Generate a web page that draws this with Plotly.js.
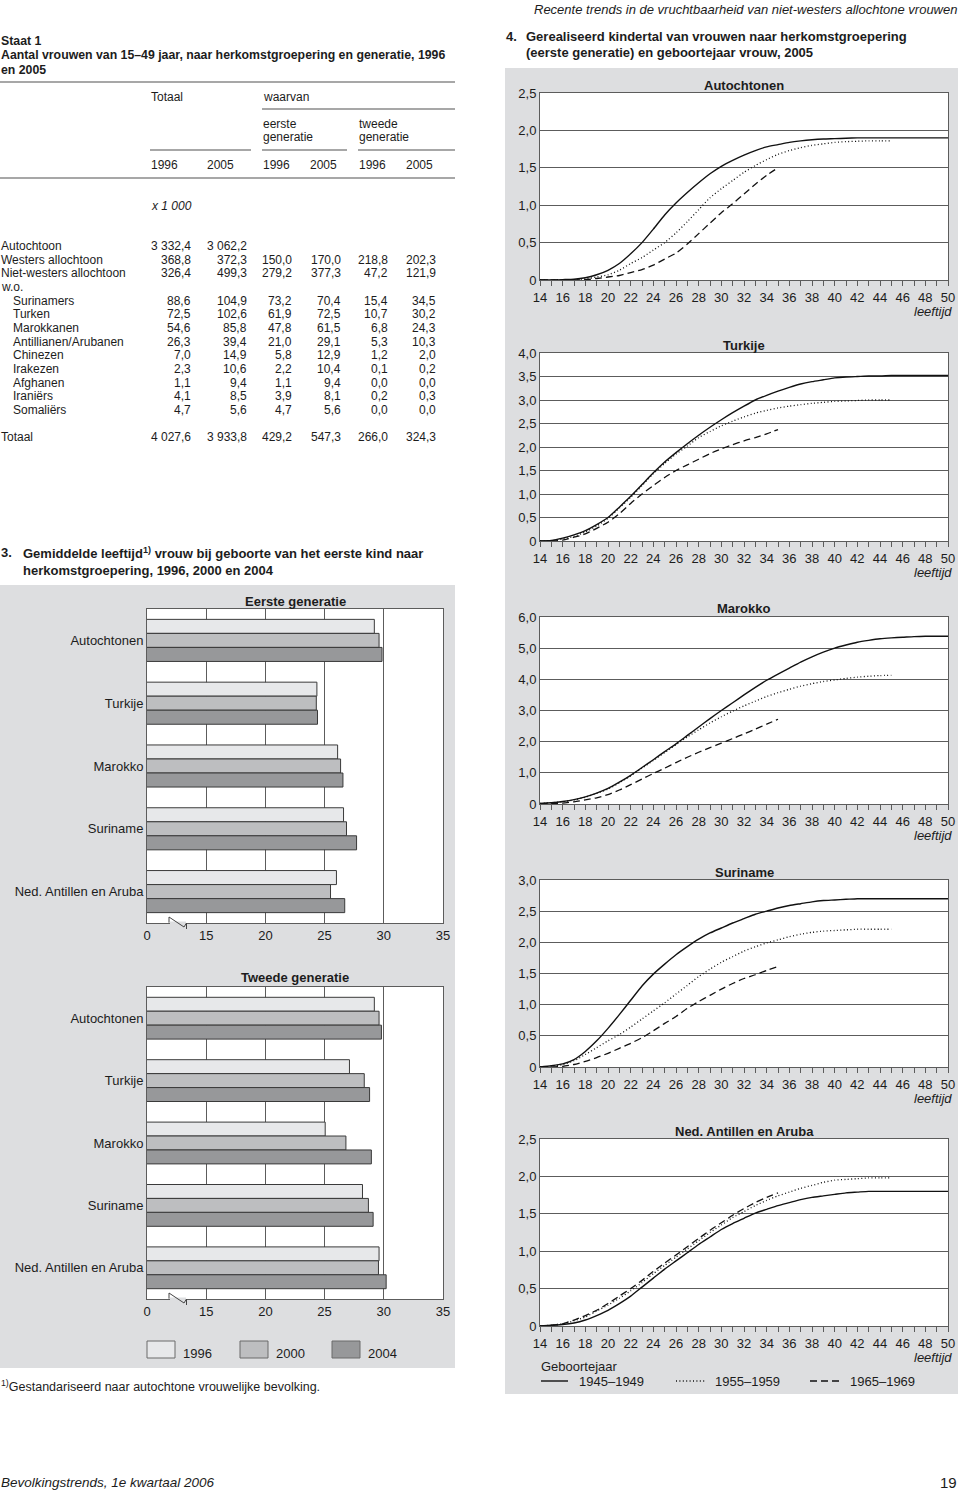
<!DOCTYPE html>
<html>
<head>
<meta charset="utf-8">
<script src="https://cdn.plot.ly/plotly-3.0.1.min.js"></script>
<style>html,body{margin:0;padding:0;background:#fff}#chart{width:960px;height:1494px}</style>
</head>
<body>
<div id="chart"></div>
<script>
// ================= DATA =================
// Staat 1 (x 1 000)
const tabelRijen = ['Autochtoon','Westers allochtoon','Niet-westers allochtoon','w.o.','Surinamers','Turken','Marokkanen','Antillianen/Arubanen','Chinezen','Irakezen','Afghanen','Iraniërs','Somaliërs','Totaal'];
const totaal1996 = [3332.4, 368.8, 326.4, null, 88.6, 72.5, 54.6, 26.3, 7.0, 2.3, 1.1, 4.1, 4.7, 4027.6];
const totaal2005 = [3062.2, 372.3, 499.3, null, 104.9, 102.6, 85.8, 39.4, 14.9, 10.6, 9.4, 8.5, 5.6, 3933.8];
const eerste1996 = [null, 150.0, 279.2, null, 73.2, 61.9, 47.8, 21.0, 5.8, 2.2, 1.1, 3.9, 4.7, 429.2];
const eerste2005 = [null, 170.0, 377.3, null, 70.4, 72.5, 61.5, 29.1, 12.9, 10.4, 9.4, 8.1, 5.6, 547.3];
const tweede1996 = [null, 218.8, 47.2, null, 15.4, 10.7, 6.8, 5.3, 1.2, 0.1, 0.0, 0.2, 0.0, 266.0];
const tweede2005 = [null, 202.3, 121.9, null, 34.5, 30.2, 24.3, 10.3, 2.0, 0.2, 0.0, 0.3, 0.0, 324.3];

// Figuur 3: gemiddelde leeftijd bij geboorte eerste kind
const herkomst = ['Autochtonen','Turkije','Marokko','Suriname','Ned. Antillen en Aruba'];
const jaren = ['1996','2000','2004'];
const eersteGen1996 = [29.2, 24.35, 26.1, 26.6, 26.0];
const eersteGen2000 = [29.6, 24.3, 26.35, 26.85, 25.5];
const eersteGen2004 = [29.85, 24.4, 26.55, 27.7, 26.7];
const tweedeGen1996 = [29.2, 27.1, 25.05, 28.2, 29.6];
const tweedeGen2000 = [29.6, 28.35, 26.8, 28.7, 29.55];
const tweedeGen2004 = [29.8, 28.8, 28.95, 29.1, 30.2];
const barTickVals = [10, 15, 20, 25, 30, 35];
const barTickText = ['0', '15', '20', '25', '30', '35'];

// Figuur 4: gerealiseerd kindertal naar leeftijd
const cohorten = ['1945–1949', '1955–1959', '1965–1969'];
const leeftijd1945 = [14,15,16,17,18,19,20,21,22,23,24,25,26,27,28,29,30,31,32,33,34,35,36,37,38,39,40,41,42,43,44,45,46,47,48,49,50];
const leeftijd1955 = [14,15,16,17,18,19,20,21,22,23,24,25,26,27,28,29,30,31,32,33,34,35,36,37,38,39,40,41,42,43,44,45];
const leeftijd1965 = [14,15,16,17,18,19,20,21,22,23,24,25,26,27,28,29,30,31,32,33,34,35];
const xTickVals = [14,16,18,20,22,24,26,28,30,32,34,36,38,40,42,44,46,48,50];

const autochtonen1945 = [0,0,0.005,0.01,0.03,0.07,0.13,0.22,0.35,0.5,0.68,0.87,1.03,1.17,1.3,1.42,1.52,1.6,1.67,1.73,1.78,1.81,1.84,1.86,1.875,1.885,1.89,1.895,1.9,1.9,1.9,1.9,1.9,1.9,1.9,1.9,1.9];
const autochtonen1955 = [0,0,0,0.005,0.015,0.04,0.07,0.13,0.22,0.3,0.4,0.5,0.63,0.78,0.94,1.1,1.22,1.33,1.44,1.53,1.61,1.68,1.73,1.77,1.8,1.82,1.84,1.85,1.855,1.86,1.86,1.86];
const autochtonen1965 = [0,0,0,0,0.005,0.02,0.04,0.06,0.1,0.14,0.2,0.28,0.36,0.48,0.62,0.76,0.9,1.02,1.15,1.28,1.4,1.5];

const turkije1945 = [0,0.01,0.06,0.13,0.22,0.35,0.5,0.72,0.95,1.2,1.45,1.68,1.88,2.07,2.25,2.42,2.58,2.73,2.87,3.0,3.1,3.19,3.27,3.34,3.39,3.43,3.47,3.49,3.5,3.51,3.51,3.52,3.52,3.52,3.52,3.52,3.52];
const turkije1955 = [0,0.01,0.04,0.1,0.19,0.32,0.48,0.7,0.93,1.18,1.43,1.65,1.85,2.02,2.2,2.33,2.45,2.55,2.64,2.72,2.78,2.83,2.87,2.9,2.93,2.95,2.97,2.98,2.99,3.0,3.0,3.0];
const turkije1965 = [0,0,0.02,0.08,0.15,0.27,0.4,0.58,0.8,1.0,1.18,1.35,1.5,1.62,1.74,1.86,1.96,2.05,2.13,2.2,2.28,2.37];

const marokko1945 = [0.02,0.04,0.08,0.14,0.23,0.35,0.5,0.7,0.92,1.17,1.42,1.68,1.93,2.2,2.47,2.74,3.0,3.25,3.5,3.74,3.97,4.17,4.36,4.55,4.72,4.87,5.0,5.1,5.19,5.25,5.3,5.33,5.35,5.37,5.38,5.38,5.38];
const marokko1955 = [0.02,0.04,0.07,0.13,0.22,0.34,0.48,0.68,0.9,1.15,1.4,1.65,1.9,2.15,2.38,2.6,2.8,2.98,3.15,3.3,3.45,3.57,3.68,3.78,3.86,3.93,3.98,4.03,4.07,4.1,4.12,4.13];
const marokko1965 = [0.01,0.02,0.03,0.07,0.13,0.2,0.3,0.45,0.62,0.8,0.98,1.15,1.33,1.5,1.66,1.81,1.95,2.1,2.25,2.4,2.56,2.72];

const suriname1945 = [0,0.02,0.05,0.12,0.25,0.42,0.62,0.84,1.07,1.3,1.49,1.65,1.8,1.93,2.05,2.15,2.23,2.31,2.38,2.45,2.5,2.55,2.59,2.62,2.65,2.67,2.68,2.69,2.7,2.7,2.7,2.7,2.7,2.7,2.7,2.7,2.7];
const suriname1955 = [0,0.01,0.04,0.1,0.2,0.31,0.42,0.52,0.64,0.77,0.9,1.03,1.17,1.31,1.45,1.57,1.68,1.77,1.86,1.93,1.99,2.04,2.09,2.13,2.16,2.18,2.19,2.2,2.21,2.21,2.21,2.21];
const suriname1965 = [0,0,0.01,0.04,0.09,0.15,0.22,0.3,0.38,0.47,0.58,0.7,0.81,0.94,1.05,1.15,1.25,1.34,1.42,1.48,1.55,1.61];

const antillen1945 = [0,0.01,0.02,0.04,0.08,0.14,0.21,0.3,0.4,0.52,0.64,0.76,0.87,0.98,1.09,1.19,1.29,1.37,1.44,1.51,1.56,1.61,1.65,1.69,1.72,1.74,1.76,1.78,1.79,1.8,1.8,1.8,1.8,1.8,1.8,1.8,1.8];
const antillen1955 = [0,0.01,0.03,0.07,0.12,0.2,0.28,0.37,0.47,0.58,0.7,0.81,0.92,1.03,1.14,1.25,1.35,1.45,1.53,1.61,1.68,1.74,1.79,1.84,1.88,1.92,1.95,1.96,1.97,1.98,1.98,1.98];
const antillen1965 = [0,0.01,0.03,0.08,0.14,0.21,0.3,0.4,0.5,0.61,0.73,0.84,0.95,1.06,1.17,1.28,1.38,1.48,1.57,1.65,1.72,1.78];

const yVals25 = [0,0.5,1,1.5,2,2.5];
const yText25 = ['0','0,5','1,0','1,5','2,0','2,5'];
const yVals40 = [0,0.5,1,1.5,2,2.5,3,3.5,4];
const yText40 = ['0','0,5','1,0','1,5','2,0','2,5','3,0','3,5','4,0'];
const yVals60 = [0,1,2,3,4,5,6];
const yText60 = ['0','1,0','2,0','3,0','4,0','5,0','6,0'];
const yVals30 = [0,0.5,1,1.5,2,2.5,3];
const yText30 = ['0','0,5','1,0','1,5','2,0','2,5','3,0'];

// ================= LAYOUT HELPERS =================
const W = 960, H = 1494;
const fx = p => p / W;
const fy = p => 1 - p / H;
const FONT = '"Liberation Sans", Arial, Helvetica, sans-serif';
const INK = '#1c1c1c';
const PANEL = '#dddee0';
const GRID = '#5c5c5c';

const traces = [], annotations = [], shapes = [];
function txt(x, y, text, size, anchor, extra) {
  annotations.push(Object.assign({
    xref: 'paper', yref: 'paper', x: fx(x), y: fy(y), text: text, showarrow: false,
    xanchor: anchor || 'left', yanchor: 'middle', align: anchor === 'right' ? 'right' : 'left',
    borderpad: 0, font: { family: FONT, size: size || 12, color: INK }
  }, extra || {}));
}
function line(x0, y0, x1, y1, color, width, dash, layer) {
  shapes.push({ type: 'line', xref: 'paper', yref: 'paper', x0: fx(x0), y0: fy(y0), x1: fx(x1), y1: fy(y1),
    line: { color: color, width: width, dash: dash || 'solid' }, layer: layer || 'above' });
}
function rect(x0, y0, x1, y1, fill, lc, lw, layer) {
  shapes.push({ type: 'rect', xref: 'paper', yref: 'paper', x0: fx(x0), y0: fy(y1), x1: fx(x1), y1: fy(y0),
    fillcolor: fill, line: { color: lc || 'rgba(0,0,0,0)', width: lw || 0 }, layer: layer || 'below' });
}
function fmt(v) {
  if (v === null) return '';
  const s = v.toFixed(1).split('.');
  return s[0].replace(/\B(?=(\d{3})+(?!\d))/g, ' ') + ',' + s[1];
}

const layout = {
  width: W, height: H, margin: { l: 0, r: 0, t: 0, b: 0 },
  paper_bgcolor: '#ffffff', plot_bgcolor: 'rgba(0,0,0,0)',
  showlegend: false, hovermode: false,
  barmode: 'group', bargap: 0.33, bargroupgap: 0,
  font: { family: FONT, color: INK, size: 12 }
};

// ================= PAGE HEADER / FOOTER =================
txt(958, 10, '<i>Recente trends in de vruchtbaarheid van niet-westers allochtone vrouwen</i>', 13, 'right');
txt(0, 1482, '<i>Bevolkingstrends, 1e kwartaal 2006</i>', 13.5);
txt(958, 1482, '19', 15, 'right');

// ================= STAAT 1 (table) =================
txt(0, 41, '<b>Staat 1</b>', 12.3);
txt(0, 55, '<b>Aantal vrouwen van 15–49 jaar, naar herkomstgroepering en generatie, 1996</b>', 12.3);
txt(0, 69.5, '<b>en 2005</b>', 12.3);
const RULE = '#8a8a8a';
line(0, 82, 455, 82, RULE, 1.5);
txt(150, 97, 'Totaal', 12);
txt(262, 97, 'waarvan', 12);
line(262, 109, 455, 109, RULE, 1.3);
txt(262, 124, 'eerste', 12); txt(262, 137, 'generatie', 12);
txt(358, 124, 'tweede', 12); txt(358, 137, 'generatie', 12);
line(150, 150, 251, 150, RULE, 1.3);
line(262, 150, 347, 150, RULE, 1.3);
line(358, 150, 455, 150, RULE, 1.3);
const hdrX = [150, 206, 262, 309, 358, 405];
const hdrYears = ['1996', '2005', '1996', '2005', '1996', '2005'];
hdrYears.forEach((t, i) => txt(hdrX[i], 165, t, 12));
line(0, 178, 455, 178, RULE, 1.5);
txt(150, 206, '<i>x 1 000</i>', 12);

const kolommen = [totaal1996, totaal2005, eerste1996, eerste2005, tweede1996, tweede2005];
const kolomRechts = [192, 248, 293, 342, 389, 437];
tabelRijen.forEach((naam, r) => {
  const last = r === tabelRijen.length - 1;
  const y = last ? 437 : 246 + r * 13.65;
  const indent = (r >= 4 && !last) ? 12 : 0;
  txt(indent, y, naam, 12);
  kolommen.forEach((col, c) => {
    const s = fmt(col[r]);
    if (s) txt(kolomRechts[c], y, s, 12, 'right');
  });
});

// ================= FIGUUR 3 (bars) =================
txt(0, 553, '<b>3.</b>', 13);
txt(22, 553, '<b>Gemiddelde leeftijd<sup>1)</sup> vrouw bij geboorte van het eerste kind naar</b>', 13);
txt(22, 570, '<b>herkomstgroepering, 1996, 2000 en 2004</b>', 13);
rect(0, 585, 455, 1368, PANEL);

const barColors = ['#e7e8ea', '#bdbec0', '#97989a'];
const barPanels = [
  { top: 609, bottom: 923, title: 'Eerste generatie', titleY: 601, data: [eersteGen1996, eersteGen2000, eersteGen2004] },
  { top: 987, bottom: 1299, title: 'Tweede generatie', titleY: 977, data: [tweedeGen1996, tweedeGen2000, tweedeGen2004] }
];
barPanels.forEach((p, k) => {
  const xs = k === 0 ? '' : String(k + 1);
  rect(147, p.top, 443, p.bottom, '#ffffff');
  layout['xaxis' + xs] = {
    domain: [fx(147), fx(443)], range: [10, 35], tickmode: 'array', tickvals: barTickVals, ticktext: barTickText,
    showgrid: true, gridcolor: GRID, gridwidth: 1, showline: true, mirror: true, linecolor: GRID, linewidth: 1,
    ticks: '', zeroline: false, anchor: 'y' + xs,
    tickfont: { family: FONT, size: 13, color: INK }, fixedrange: true
  };
  layout['yaxis' + xs] = {
    domain: [fy(p.bottom), fy(p.top)], type: 'category', autorange: 'reversed', showgrid: false,
    showline: true, mirror: true, linecolor: GRID, linewidth: 1, ticks: '', anchor: 'x' + xs,
    tickfont: { family: FONT, size: 13, color: INK }, fixedrange: true
  };
  p.data.forEach((vals, i) => {
    traces.push({
      type: 'bar', orientation: 'h', x: vals, y: herkomst, name: jaren[i],
      xaxis: 'x' + xs, yaxis: 'y' + xs,
      marker: { color: barColors[i], line: { color: '#3a3a3a', width: 1 } },
      hoverinfo: 'skip', showlegend: false
    });
  });
  txt(295, p.titleY, '<b>' + p.title + '</b>', 13, 'center');
  // axis break marker
  const yb = p.bottom;
  shapes.push({ type: 'rect', xref: 'paper', yref: 'paper', x0: fx(170), x1: fx(186), y0: fy(yb + 1.5), y1: fy(yb - 1.5),
    fillcolor: PANEL, line: { width: 0 }, layer: 'above' });
  shapes.push({ type: 'path', xref: 'paper', yref: 'paper',
    path: 'M ' + fx(169) + ',' + fy(yb - 0.3) + ' L ' + fx(169) + ',' + fy(yb - 6) + ' L ' + fx(184) + ',' + fy(yb + 4) +
          ' L ' + fx(186.5) + ',' + fy(yb) + ' L ' + fx(186.5) + ',' + fy(yb + 6),
    line: { color: '#444', width: 1 }, layer: 'above' });
});
// legend for bars
const legBoxX = [147, 240, 332];
jaren.forEach((j, i) => {
  rect(legBoxX[i], 1341, legBoxX[i] + 28, 1358, barColors[i], '#6a6a6a', 1, 'above');
  txt(legBoxX[i] + 35, 1353, j, 13);
});
txt(0, 1386, '<sup>1)</sup>Gestandariseerd naar autochtone vrouwelijke bevolking.', 12.5);

// ================= FIGUUR 4 (lines) =================
txt(505, 37, '<b>4.</b>', 13);
txt(525, 37, '<b>Gerealiseerd kindertal van vrouwen naar herkomstgroepering</b>', 13);
txt(525, 53, '<b>(eerste generatie) en geboortejaar vrouw, 2005</b>', 13);
rect(505, 68, 958, 1394, PANEL);

const lineStyles = [
  { dash: 'solid', width: 1.4 },
  { dash: '1px,2.4px', width: 1.3 },
  { dash: '7px,4px', width: 1.3 }
];
const leeftijden = [leeftijd1945, leeftijd1955, leeftijd1965];
const linePanels = [
  { title: 'Autochtonen', top: 93, bottom: 280, max: 2.5, tv: yVals25, tt: yText25, series: [autochtonen1945, autochtonen1955, autochtonen1965] },
  { title: 'Turkije', top: 353, bottom: 541, max: 4, tv: yVals40, tt: yText40, series: [turkije1945, turkije1955, turkije1965] },
  { title: 'Marokko', top: 617, bottom: 804, max: 6, tv: yVals60, tt: yText60, series: [marokko1945, marokko1955, marokko1965] },
  { title: 'Suriname', top: 880, bottom: 1067, max: 3, tv: yVals30, tt: yText30, series: [suriname1945, suriname1955, suriname1965] },
  { title: 'Ned. Antillen en Aruba', top: 1139, bottom: 1326, max: 2.5, tv: yVals25, tt: yText25, series: [antillen1945, antillen1955, antillen1965] }
];
const PX0 = 540, PX1 = 948;
linePanels.forEach((p, k) => {
  const s = String(k + 3);
  rect(PX0, p.top, PX1, p.bottom, '#ffffff');
  layout['xaxis' + s] = {
    domain: [fx(PX0), fx(PX1)], range: [14, 50], tickmode: 'array', tickvals: xTickVals,
    ticks: 'outside', ticklen: 5, tickcolor: GRID, tickwidth: 1,
    minor: { tickmode: 'linear', tick0: 14, dtick: 1, ticks: 'outside', ticklen: 5, tickcolor: GRID, tickwidth: 1, showgrid: false },
    showgrid: false, showline: true, mirror: true, linecolor: GRID, linewidth: 1, zeroline: false,
    anchor: 'y' + s, tickfont: { family: FONT, size: 13, color: INK }, fixedrange: true
  };
  layout['yaxis' + s] = {
    domain: [fy(p.bottom), fy(p.top)], range: [0, p.max], tickmode: 'array', tickvals: p.tv, ticktext: p.tt,
    showgrid: true, gridcolor: GRID, gridwidth: 1, showline: true, mirror: true, linecolor: GRID, linewidth: 1,
    ticks: '', zeroline: false, anchor: 'x' + s, tickfont: { family: FONT, size: 13, color: INK }, fixedrange: true
  };
  p.series.forEach((vals, i) => {
    traces.push({
      type: 'scatter', mode: 'lines', x: leeftijden[i], y: vals, name: cohorten[i],
      xaxis: 'x' + s, yaxis: 'y' + s,
      line: { color: '#111111', width: lineStyles[i].width, dash: lineStyles[i].dash, shape: 'spline', smoothing: 0.6 },
      hoverinfo: 'skip', showlegend: false, cliponaxis: true
    });
  });
  txt((PX0 + PX1) / 2, p.top - 8, '<b>' + p.title + '</b>', 13, 'center');
  txt(953, p.bottom + 31.5, '<i>leeftijd</i>', 13, 'right');
});
// legend for lines
txt(540, 1366, 'Geboortejaar', 13);
const legLineX = [[541, 568], [676, 705], [810, 839]];
const legTextX = [578, 714, 849];
cohorten.forEach((c, i) => {
  line(legLineX[i][0], 1381, legLineX[i][1], 1381, '#111111', lineStyles[i].width, lineStyles[i].dash);
  txt(legTextX[i], 1381, c, 13);
});

layout.annotations = annotations;
layout.shapes = shapes;

Plotly.newPlot('chart', traces, layout, { staticPlot: true, responsive: false, displayModeBar: false });
</script>
</body>
</html>
